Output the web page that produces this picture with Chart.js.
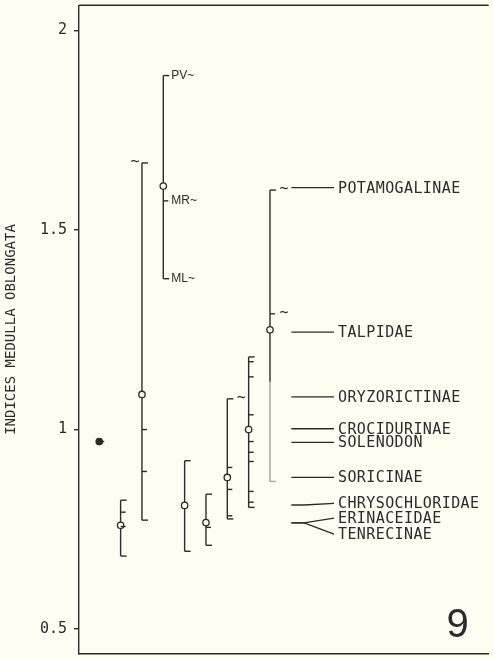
<!DOCTYPE html>
<html><head><meta charset="utf-8">
<script src="https://cdn.jsdelivr.net/npm/chart.js@4"></script>
<style>html,body{margin:0;padding:0;background:#fefdf2;}canvas{display:block}</style>
</head><body>
<canvas id="c" width="494" height="659"></canvas>
<script>
// ---- data ----
const yTickValues = [0.5, 1, 1.5, 2];
const yTickLabels = ['0.5', '1', '1.5', '2'];
const barX = [1, 2, 3, 4, 5, 6, 7, 8, 9];
const barMean = [0.970, 0.760, 1.088, 1.610, 0.810, 0.767, 0.880, 1.000, 1.250];
const barLow  = [null, 0.683, 0.773, 1.378, 0.695, 0.710, 0.776, 0.805, 0.870];
const barHigh = [null, 0.823, 1.668, 1.887, 0.922, 0.838, 1.077, 1.182, 1.600];
const barGreyBelow = [null, null, null, null, null, null, null, null, 1.120];
const barTicks = [
  [0.970], [0.793, 0.757], [1.000, 0.895], [1.573], [], [0.755],
  [0.905, 0.850, 0.784],
  [1.170, 1.132, 1.037, 0.970, 0.943, 0.920, 0.845, 0.818],
  [1.290]
];
const tildeBar = [3, 7, 9, 9];
const tildeY = [1.668, 1.077, 1.600, 1.290];
const tildeSide = [-1, 1, 1, 1];
const regionBar = 4;
const regionNames = ['PV', 'MR', 'ML'];
const regionY = [1.887, 1.573, 1.378];
const groupNames = ['POTAMOGALINAE', 'TALPIDAE', 'ORYZORICTINAE', 'CROCIDURINAE', 'SOLENODON',
  'SORICINAE', 'CHRYSOCHLORIDAE', 'ERINACEIDAE', 'TENRECINAE'];
const groupValue = [1.606, 1.244, 1.082, 1.002, 0.968, 0.880, 0.811, 0.766, 0.766];
const groupLabelY = [1.606, 1.244, 1.082, 1.002, 0.968, 0.880, 0.815, 0.778, 0.738];
const figureNumber = '9';

// ---- style ----
const INK = '#2b2b2b';
const GREY = '#a8a8a8';
const BG = '#fefdf2';
const MONO = '"DejaVu Sans Mono", "Liberation Mono", monospace';
const SANS = '"Liberation Sans", Arial, sans-serif';
const LINE_X0 = 10, LINE_KNEE = 10.6, LINE_X1 = 12;

const datasets = [];
datasets.push({
  type: 'scatter',
  data: barX.map((x, i) => ({x, y: barMean[i]})),
  pointStyle: 'circle', pointRadius: 3.2, borderWidth: 1.3,
  borderColor: INK,
  backgroundColor: c => (barLow[c.dataIndex] == null ? INK : BG)
});
barX.forEach((x, i) => {
  if (barLow[i] == null) return;
  const split = barGreyBelow[i];
  if (split == null) {
    datasets.push({type: 'line', data: [{x, y: barLow[i]}, {x, y: barHigh[i]}],
      borderColor: INK, borderWidth: 1.4, pointRadius: 0});
  } else {
    datasets.push({type: 'line', data: [{x, y: split}, {x, y: barHigh[i]}],
      borderColor: INK, borderWidth: 1.4, pointRadius: 0});
    datasets.push({type: 'line', data: [{x, y: barLow[i]}, {x, y: split}],
      borderColor: GREY, borderWidth: 1.6, pointRadius: 0});
  }
});
groupNames.forEach((n, i) => {
  datasets.push({type: 'line',
    data: [{x: LINE_X0, y: groupValue[i]}, {x: LINE_KNEE, y: groupValue[i]}, {x: LINE_X1, y: groupLabelY[i]}],
    borderColor: INK, borderWidth: 1.3, pointRadius: 0, tension: 0});
});

const overlay = {
  id: 'overlay',
  afterDatasetsDraw(chart) {
    const {ctx, chartArea: a, scales: {x: sx, y: sy}} = chart;
    ctx.save();
    ctx.strokeStyle = INK; ctx.fillStyle = INK; ctx.lineWidth = 1.4; ctx.lineCap = 'butt';
    const seg = (x1, y1, x2, y2) => { ctx.beginPath(); ctx.moveTo(x1, y1); ctx.lineTo(x2, y2); ctx.stroke(); };
    // top frame line
    seg(a.left, a.top, a.right, a.top);
    // caps and ticks
    barX.forEach((x, i) => {
      const px = sx.getPixelForValue(x);
      if (barLow[i] != null) {
        const hy = sy.getPixelForValue(barHigh[i]);
        seg(px, hy, px + 6, hy);
        const ly = sy.getPixelForValue(barLow[i]);
        ctx.strokeStyle = barGreyBelow[i] != null ? GREY : INK;
        seg(px, ly, px + 6, ly);
        ctx.strokeStyle = INK;
      }
      barTicks[i].forEach(v => { const ty = sy.getPixelForValue(v); seg(px, ty, px + 5, ty); });
    });
    // tildes
    ctx.font = '15px ' + MONO; ctx.textAlign = 'center'; ctx.textBaseline = 'middle';
    tildeBar.forEach((b, i) => {
      const px = sx.getPixelForValue(b) + (tildeSide[i] < 0 ? -7 : 14);
      ctx.fillText('~', px, sy.getPixelForValue(tildeY[i]) - 1);
    });
    // region labels on bar 4
    ctx.font = '12px ' + SANS; ctx.textAlign = 'left';
    const rx = sx.getPixelForValue(regionBar);
    regionNames.forEach((n, i) => {
      ctx.fillText(n + '~', rx + 8, sy.getPixelForValue(regionY[i]));
    });
    // group labels
    ctx.font = '15px ' + MONO; ctx.textAlign = 'left';
    try { ctx.letterSpacing = '0.4px'; } catch (e) {}
    const lx = sx.getPixelForValue(LINE_X1) + 4;
    groupNames.forEach((n, i) => {
      ctx.fillText(n, lx, sy.getPixelForValue(groupLabelY[i]) + 1);
    });
    try { ctx.letterSpacing = '0px'; } catch (e) {}
    // figure number
    ctx.font = '40px ' + SANS; ctx.textAlign = 'center'; ctx.textBaseline = 'alphabetic';
    ctx.fillText(figureNumber, a.right - 31, a.bottom - 17);
    ctx.restore();
  }
};

new Chart(document.getElementById('c'), {
  type: 'scatter',
  data: {datasets},
  options: {
    responsive: false, animation: false, events: [],
    layout: {padding: {top: 4, left: 0, right: 0, bottom: 0}},
    plugins: {legend: {display: false}, tooltip: {enabled: false}},
    scales: {
      x: {
        type: 'linear', min: 0.05, max: 19.25,
        ticks: {display: false},
        grid: {display: false, drawTicks: false},
        border: {display: true, color: INK, width: 1.4},
        afterFit: s => { s.height = 4; s.paddingLeft = 0; s.paddingRight = 0; }
      },
      y: {
        type: 'linear', min: 0.4384, max: 2.063,
        afterBuildTicks: s => { s.ticks = yTickValues.map(v => ({value: v})); },
        afterFit: s => { s.width = 79; s.paddingTop = 0; s.paddingBottom = 0; },
        ticks: {
          callback: v => yTickLabels[yTickValues.indexOf(v)],
          font: {family: MONO, size: 15}, color: INK, padding: 7
        },
        grid: {drawOnChartArea: false, drawTicks: true, tickLength: 5, color: INK, lineWidth: 1.4},
        border: {display: true, color: INK, width: 1.4},
        title: {display: true, text: 'INDICES MEDULLA OBLONGATA',
          font: {family: MONO, size: 14}, color: INK, padding: {top: 3, bottom: 0}}
      }
    }
  },
  plugins: [overlay]
});
</script>
</body></html>
